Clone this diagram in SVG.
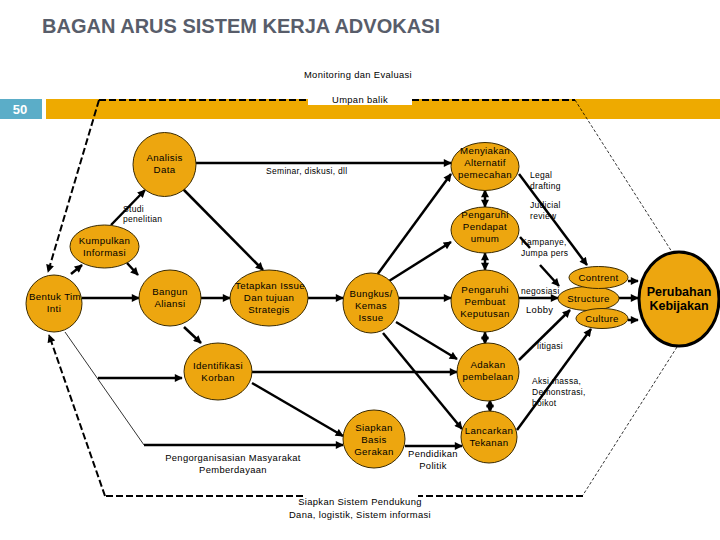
<svg xmlns="http://www.w3.org/2000/svg" width="720" height="540" viewBox="0 0 720 540">
<defs>
<marker id="ah" viewBox="0 0 10 10" refX="9" refY="5" markerWidth="9" markerHeight="8" markerUnits="userSpaceOnUse" orient="auto-start-reverse"><path d="M0,0 L10,5 L0,10 z" fill="#000"/></marker>
<style>
.t{font-family:"Liberation Sans",Arial,sans-serif;font-size:9.7px;fill:#000;letter-spacing:0.35px}
.s{font-size:8.5px;letter-spacing:0.3px}
.m{font-size:9.4px}
.c{text-anchor:middle}
.n{fill:#EDA60F;stroke:#3a2a00;stroke-width:1}
.a{stroke:#000;stroke-width:2.5;fill:none;marker-end:url(#ah)}
.d{stroke:#000;stroke-width:2.5;fill:none;marker-end:url(#ah);marker-start:url(#ah)}
.l{stroke:#000;stroke-width:2.5;fill:none}
.ds{stroke:#000;stroke-width:2;fill:none;stroke-dasharray:7,3}
.dt{stroke:#000;stroke-width:0.8;fill:none;stroke-dasharray:3,2}
</style>
</defs>
<text x="42" y="33" font-family="Liberation Sans,Arial,sans-serif" font-size="20" font-weight="bold" fill="#585d6a" textLength="398" lengthAdjust="spacingAndGlyphs">BAGAN ARUS SISTEM KERJA ADVOKASI</text>
<text class="t c m" x="358" y="78">Monitoring dan Evaluasi</text>
<rect x="0" y="99" width="42" height="20" fill="#5BADC8"/>
<text x="20" y="114" font-family="Liberation Sans,Arial,sans-serif" font-size="13" font-weight="bold" fill="#fff" text-anchor="middle">50</text>
<rect x="46" y="99" width="674" height="20" fill="#EEAA00"/>
<rect x="308" y="96" width="104" height="9" fill="#fff"/>
<text class="t c m" x="360" y="103">Umpan balik</text>

<g id="connectors">
<path class="ds" d="M99,100 H308 M412,100 H575"/>
<path class="ds" d="M99,100 L48,272" marker-end="url(#ah)"/>
<path class="dt" d="M575,100 L672,252"/>
<path class="dt" d="M677,347 L583,495"/>
<path class="ds" d="M583,496 H418 M303,496 H105"/>
<path class="ds" d="M105,496 L49,335" marker-end="url(#ah)"/>
<path d="M65,332 L144,445" stroke="#000" stroke-width="0.8" fill="none"/>
<path class="a" d="M196,163 H451"/>
<path class="a" d="M183,189 L263,270"/>
<path class="a" d="M111,225 L145,190"/>
<path class="a" d="M71,274 L82,265"/>
<path class="a" d="M127,263 L138,275"/>
<path class="a" d="M82,298 H139"/>
<path class="a" d="M201,298 H230"/>
<path class="a" d="M308,298 H343"/>
<path class="a" d="M184,327 L201,343"/>
<path class="a" d="M377,275 L451,174"/>
<path class="a" d="M389,281 L451,242"/>
<path class="a" d="M399,298 H451"/>
<path class="a" d="M396,322 L457,359"/>
<path class="a" d="M383,333 L462,429"/>
<path class="a" d="M252,372 H457"/>
<path class="a" d="M252,383 L343,436"/>
<path class="a" d="M144,445 H343"/>
<path class="a" d="M98,378 H182"/>
<path class="a" d="M405,446 H462"/>
<path class="d" d="M485,190 V207"/>
<path class="d" d="M485,253 V270"/>
<path class="d" d="M485,332 V344"/>
<path class="d" d="M490,400 V412"/>
<path class="a" d="M519,174 L587,265"/>
<path class="l" d="M520,237 L530,248"/>
<path class="a" d="M540,265 L559,286"/>
<path class="a" d="M519,298 H558"/>
<path class="a" d="M519,360 L570,310"/>
<path class="a" d="M517,430 L591,329"/>
<path class="a" d="M628,281 H638"/>
<path class="a" d="M619,298 H638"/>
<path class="a" d="M628,320 H638"/>
</g>

<g id="labels">
<text class="t s" x="266" y="174">Seminar, diskusi, dll</text>
<text class="t s" x="123" y="212">Studi</text>
<text class="t s" x="123" y="222">penelitian</text>
<text class="t s" x="530" y="178">Legal</text>
<text class="t s" x="530" y="189">drafting</text>
<text class="t s" x="530" y="208">Judicial</text>
<text class="t s" x="530" y="219">review</text>
<text class="t s" x="521" y="245">Kampanye,</text>
<text class="t s" x="521" y="256">Jumpa pers</text>
<text class="t s" x="521" y="294">negosiasi</text>
<text class="t m" x="526" y="313">Lobby</text>
<text class="t s" x="537" y="349">litigasi</text>
<text class="t s" x="532" y="384">Aksi massa,</text>
<text class="t s" x="532" y="395">Demonstrasi,</text>
<text class="t s" x="532" y="406">boikot</text>
<text class="t c m" x="233" y="461">Pengorganisasian Masyarakat</text>
<text class="t c m" x="233" y="473">Pemberdayaan</text>
<text class="t c m" x="433" y="457">Pendidikan</text>
<text class="t c m" x="433" y="469">Politik</text>
<text class="t c m" x="360" y="505">Siapkan Sistem Pendukung</text>
<text class="t c m" x="360" y="518">Dana, logistik, Sistem informasi</text>
</g>

<g id="analisis"><ellipse class="n" cx="164.5" cy="164.5" rx="31.5" ry="32"/><text class="t c" x="164.5" y="161">Analisis</text><text class="t c" x="164.5" y="173">Data</text></g>
<g id="kumpulkan"><ellipse class="n" cx="104.5" cy="246.5" rx="34.5" ry="21.5"/><text class="t c" x="104.5" y="244">Kumpulkan</text><text class="t c" x="104.5" y="256">Informasi</text></g>
<g id="bentuk"><ellipse class="n" cx="54" cy="303.5" rx="28" ry="28.5"/><text class="t c" x="55" y="300">Bentuk Tim</text><text class="t c" x="54" y="312">Inti</text></g>
<g id="bangun"><ellipse class="n" cx="170" cy="298" rx="31" ry="28"/><text class="t c" x="170" y="295">Bangun</text><text class="t c" x="170" y="307">Aliansi</text></g>
<g id="tetapkan"><ellipse class="n" cx="269" cy="298" rx="39" ry="28"/><text class="t c" x="270" y="289">Tetapkan Issue</text><text class="t c" x="269" y="301">Dan tujuan</text><text class="t c" x="269" y="313">Strategis</text></g>
<g id="bungkus"><ellipse class="n" cx="371" cy="303" rx="28" ry="30"/><text class="t c" x="371" y="297">Bungkus/</text><text class="t c" x="371" y="309">Kemas</text><text class="t c" x="371" y="321">Issue</text></g>
<g id="identifikasi"><ellipse class="n" cx="218" cy="371.5" rx="34" ry="28.5"/><text class="t c" x="218" y="369">Identifikasi</text><text class="t c" x="218" y="381">Korban</text></g>
<g id="siapkan"><ellipse class="n" cx="374" cy="439" rx="31" ry="29"/><text class="t c" x="374" y="431">Siapkan</text><text class="t c" x="374" y="443">Basis</text><text class="t c" x="374" y="455">Gerakan</text></g>
<g id="menyiakan"><ellipse class="n" cx="485" cy="166.5" rx="34" ry="24"/><text class="t c" x="485" y="154">Menyiakan</text><text class="t c" x="485" y="166">Alternatif</text><text class="t c" x="485" y="178">pemecahan</text></g>
<g id="pendapat"><ellipse class="n" cx="485" cy="230" rx="34" ry="23"/><text class="t c" x="485" y="218">Pengaruhi</text><text class="t c" x="485" y="230">Pendapat</text><text class="t c" x="485" y="242">umum</text></g>
<g id="pembuat"><ellipse class="n" cx="485" cy="301" rx="34" ry="31"/><text class="t c" x="485" y="293">Pengaruhi</text><text class="t c" x="485" y="305">Pembuat</text><text class="t c" x="485" y="317">Keputusan</text></g>
<g id="adakan"><ellipse class="n" cx="488" cy="372" rx="31" ry="29"/><text class="t c" x="488" y="368">Adakan</text><text class="t c" x="488" y="380">pembelaan</text></g>
<g id="lancarkan"><ellipse class="n" cx="489" cy="437" rx="28" ry="26"/><text class="t c" x="489" y="434">Lancarkan</text><text class="t c" x="489" y="446">Tekanan</text></g>
<g id="structure"><ellipse class="n" cx="588.5" cy="298.5" rx="30.5" ry="12"/><text class="t c" x="588.5" y="302">Structure</text></g>
<g id="contrent"><ellipse class="n" cx="598.5" cy="277.5" rx="29.5" ry="11"/><text class="t c" x="598.5" y="281">Contrent</text></g>
<g id="culture"><ellipse class="n" cx="602" cy="318.5" rx="26" ry="10"/><text class="t c" x="602" y="322">Culture</text></g>
<g id="perubahan"><ellipse cx="679" cy="299" rx="40" ry="47" fill="#EDA60F" stroke="#000" stroke-width="3"/><text x="679" y="296" font-family="Liberation Sans,Arial,sans-serif" font-size="12.5" font-weight="bold" text-anchor="middle">Perubahan</text><text x="679" y="310" font-family="Liberation Sans,Arial,sans-serif" font-size="12.5" font-weight="bold" text-anchor="middle">Kebijakan</text></g>
</svg>
